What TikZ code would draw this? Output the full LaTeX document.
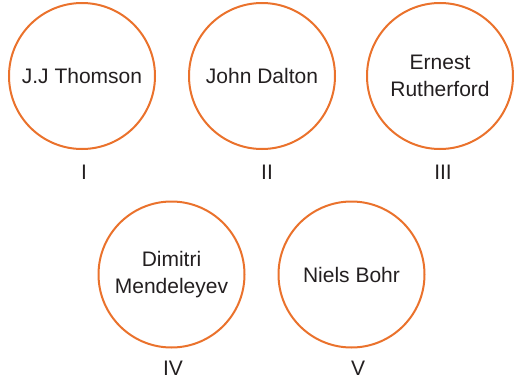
\documentclass[tikz,border=0pt]{standalone}
\usepackage{fontspec}
\setmainfont{Liberation Sans}
\definecolor{ringorange}{RGB}{234,114,44}
\definecolor{inkgray}{RGB}{35,31,32}
\tikzset{
  scientist/.style={circle,draw=ringorange,line width=2pt,minimum size=146pt,
    inner sep=0pt,align=center,text=inkgray,font=\fontsize{21}{27}\selectfont},
  numeral/.style={text=inkgray,font=\fontsize{21}{25}\selectfont}
}
\begin{document}
\begin{tikzpicture}[x=1pt,y=-1pt]
\useasboundingbox (0,0) rectangle (514,388);
% top row
\node[scientist] (thomson) at (82,76) {J.J Thomson};
\node[scientist] (dalton) at (262,76) {John Dalton};
\node[scientist] (rutherford) at (440,76) {Ernest\\Rutherford};
% bottom row
\node[scientist] (mendeleyev) at (171.5,274.5) {Dimitri\\Mendeleyev};
\node[scientist] (bohr) at (351.5,274.5) {Niels Bohr};
% numerals
\node[numeral] (n1) at (84,172) {I};
\node[numeral] (n2) at (267,172) {II};
\node[numeral] (n3) at (443,172) {III};
\node[numeral] (n4) at (173,368) {IV};
\node[numeral] (n5) at (358,368) {V};
\end{tikzpicture}
\end{document}
